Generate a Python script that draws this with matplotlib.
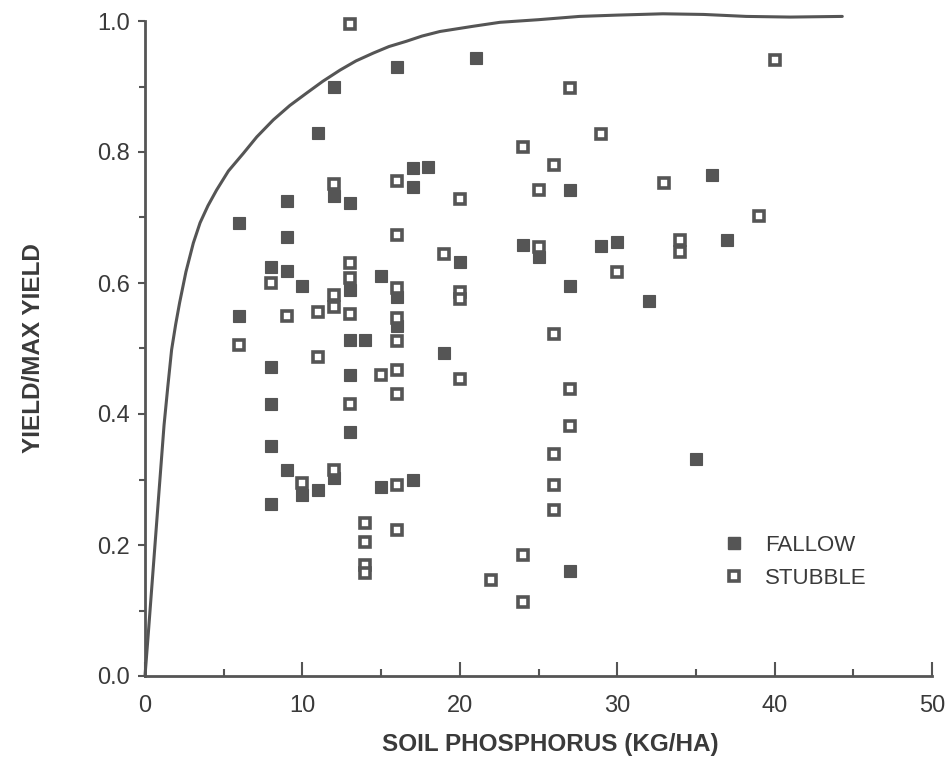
import matplotlib
matplotlib.use("Agg")
import matplotlib.pyplot as plt
from matplotlib.lines import Line2D
from matplotlib.ticker import MultipleLocator

# fallow plots (filled squares)
fallow_x = [6, 6, 8, 8, 8, 8, 8, 9, 9, 9, 9, 10, 10, 11, 11, 12, 12, 12,
            13, 13, 13, 13, 13, 14, 15, 15, 16, 16, 16, 17, 17, 17, 18, 19,
            20, 21, 24, 25, 27, 27, 27, 29, 30, 32, 35, 36, 37]
fallow_y = [0.692, 0.549, 0.625, 0.472, 0.415, 0.351, 0.263, 0.725, 0.670,
            0.619, 0.315, 0.596, 0.277, 0.829, 0.284, 0.900, 0.733, 0.302,
            0.722, 0.589, 0.513, 0.460, 0.372, 0.513, 0.611, 0.288, 0.930,
            0.579, 0.534, 0.775, 0.747, 0.299, 0.777, 0.493, 0.632, 0.943,
            0.658, 0.639, 0.742, 0.595, 0.161, 0.657, 0.662, 0.573, 0.331,
            0.765, 0.665]

# stubble plots (open squares)
stubble_x = [6, 8, 9, 10, 11, 11, 12, 12, 12, 12, 13, 13, 13, 13, 13, 14,
             14, 14, 14, 15, 16, 16, 16, 16, 16, 16, 16, 16, 16, 19, 20, 20,
             20, 20, 22, 24, 24, 24, 25, 25, 26, 26, 26, 26, 26, 27, 27, 27,
             29, 30, 33, 34, 34, 39, 40]
stubble_y = [0.505, 0.600, 0.549, 0.294, 0.556, 0.487, 0.751, 0.582, 0.563,
             0.315, 0.995, 0.630, 0.607, 0.553, 0.416, 0.234, 0.205, 0.169,
             0.157, 0.460, 0.755, 0.673, 0.592, 0.546, 0.512, 0.467, 0.431,
             0.292, 0.223, 0.644, 0.728, 0.587, 0.575, 0.453, 0.146, 0.807,
             0.185, 0.113, 0.742, 0.655, 0.780, 0.522, 0.339, 0.292, 0.254,
             0.897, 0.438, 0.382, 0.827, 0.617, 0.753, 0.666, 0.647, 0.702,
             0.940]

# boundary curve
curve_x = [0, 0.21, 0.53, 0.85, 1.21, 1.45, 1.69, 1.95, 2.2, 2.6, 3.07,
           3.5, 4.0, 4.55, 5.3, 6.25, 7.1, 8.15, 9.2, 10.27, 11.3, 12.39,
           13.4, 14.5, 15.5, 16.6, 17.6, 18.74, 20.86, 22.55, 25, 27.6, 30,
           32.9, 35.5, 38.2, 41, 44.3]
curve_y = [0, 0.065, 0.167, 0.269, 0.383, 0.442, 0.498, 0.537, 0.57, 0.617,
           0.661, 0.692, 0.718, 0.742, 0.771, 0.798, 0.823, 0.849, 0.871,
           0.89, 0.908, 0.925, 0.939, 0.951, 0.961, 0.969, 0.977, 0.984,
           0.992, 0.998, 1.002, 1.007, 1.009, 1.011, 1.010, 1.007, 1.006,
           1.007]

xticks = [0, 10, 20, 30, 40, 50]
yticks = [0.0, 0.2, 0.4, 0.6, 0.8, 1.0]

ink = "#555555"
txt = "#3a3a3a"
plt.rcParams["font.family"] = ["Liberation Sans", "DejaVu Sans"]

fig = plt.figure(figsize=(9.47, 7.61), dpi=100)
ytop = 1.02
ax = fig.add_axes([145 / 947, 1 - 676 / 761, 787 / 947, 655 * ytop / 761])

ax.plot(curve_x, curve_y, color=ink, lw=2.2, solid_capstyle="round",
        solid_joinstyle="round", clip_on=False)
ax.plot(fallow_x, fallow_y, "s", ms=9, color=ink, mec=ink, mew=0.8,
        linestyle="none", clip_on=False)
ax.plot(stubble_x, stubble_y, "s", ms=7, mfc="white", mec=ink, mew=2.6,
        linestyle="none", clip_on=False)

ax.set_xlim(0, 50)
ax.set_ylim(0, ytop)
ax.spines["top"].set_visible(False)
ax.spines["right"].set_visible(False)
ax.spines["left"].set_bounds(0, 1.0)
for s in ("left", "bottom"):
    ax.spines[s].set_color(ink)
    ax.spines[s].set_linewidth(2.0)

ax.set_xticks(xticks)
ax.set_yticks(yticks)
ax.set_yticklabels(["%.1f" % v for v in yticks])
ax.xaxis.set_minor_locator(MultipleLocator(5))
ax.yaxis.set_minor_locator(MultipleLocator(0.1))
ax.tick_params(axis="x", which="major", direction="in", length=10, width=1.5,
               color=ink, labelsize=17, labelcolor=txt, pad=14)
ax.tick_params(axis="x", which="minor", direction="in", length=5, width=1.5,
               color=ink)
ax.tick_params(axis="y", which="major", direction="out", length=5, width=1.5,
               color=ink, labelsize=17, labelcolor=txt, pad=6)
ax.tick_params(axis="y", which="minor", direction="out", length=4, width=1.5,
               color=ink)

ax.set_xlabel("SOIL PHOSPHORUS (KG/HA)", fontsize=17.5, fontweight="bold",
              color=txt)
ax.xaxis.set_label_coords((550 - 145) / 787, -(733 - 676) / (655 * ytop))
ax.set_ylabel("YIELD/MAX YIELD", fontsize=17.5, fontweight="bold", color=txt)
ax.yaxis.set_label_coords(-(145 - 45) / 787, 0.5 / ytop)

handles = [
    Line2D([], [], marker="s", ms=9, color=ink, linestyle="none"),
    Line2D([], [], marker="s", ms=7, mfc="white", mec=ink, mew=2.6,
           linestyle="none"),
]
ax.legend(handles, ["FALLOW", "STUBBLE"], loc="center left",
          bbox_to_anchor=((712 - 145) / 787, (676 - 562) / (655 * ytop)),
          frameon=False, fontsize=16, handlelength=1.0, handletextpad=0.9,
          labelspacing=0.55, borderpad=0, labelcolor=txt)

fig.savefig("out.png", dpi=100)
